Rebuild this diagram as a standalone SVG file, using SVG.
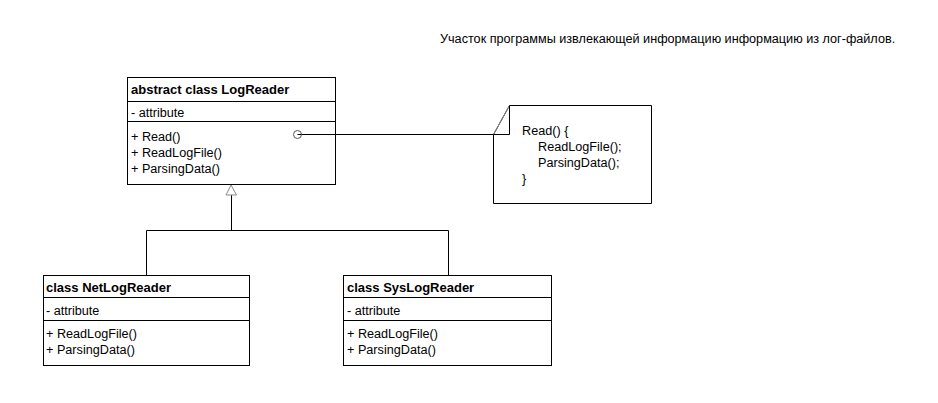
<svg xmlns="http://www.w3.org/2000/svg" width="938" height="403" viewBox="0 0 938 403">
<style>
  text { font-family: "Liberation Sans", Arial, sans-serif; font-size: 12.65px; fill: #000; }
  .b { font-weight: bold; font-size: 13px; }
  .box { fill: #fff; stroke: #000; stroke-width: 1; }
  .ln { fill: none; stroke: #000; stroke-width: 1; }
</style>
<rect width="938" height="403" fill="#fff"/>
<text x="440" y="43">Участок программы извлекающей информацию информацию из лог-файлов.</text>

<g id="LogReader">
  <rect class="box" x="127.5" y="77.5" width="208" height="107"/>
  <line class="ln" x1="127.5" y1="101.5" x2="335.5" y2="101.5"/>
  <line class="ln" x1="127.5" y1="121.5" x2="335.5" y2="121.5"/>
  <text class="b" x="131" y="94">abstract class LogReader</text>
  <text x="131" y="117">- attribute</text>
  <text x="131" y="141">+ Read()</text>
  <text x="131" y="157">+ ReadLogFile()</text>
  <text x="131" y="173">+ ParsingData()</text>
</g>

<g id="note">
  <path class="box" d="M509.5 105.5 H651.5 V203.5 H493.5 V134.5 Z"/>
  <path fill="none" stroke="#888" stroke-width="1" d="M493.5 134.5 L509.5 105.5"/>
  <path class="ln" d="M509.5 105.5 V134.5 H493.5"/>
  <text x="522" y="135">Read() {</text>
  <text x="538" y="151">ReadLogFile();</text>
  <text x="538" y="167">ParsingData();</text>
  <text x="522" y="183">}</text>
</g>

<g id="NetLogReader">
  <rect class="box" x="43.5" y="275.5" width="206" height="90"/>
  <line class="ln" x1="43.5" y1="297.5" x2="249.5" y2="297.5"/>
  <line class="ln" x1="43.5" y1="320.5" x2="249.5" y2="320.5"/>
  <text class="b" x="46" y="292">class NetLogReader</text>
  <text x="46" y="315">- attribute</text>
  <text x="46" y="338">+ ReadLogFile()</text>
  <text x="46" y="354">+ ParsingData()</text>
</g>

<g id="SysLogReader">
  <rect class="box" x="343.5" y="275.5" width="208" height="90"/>
  <line class="ln" x1="343.5" y1="297.5" x2="551.5" y2="297.5"/>
  <line class="ln" x1="343.5" y1="320.5" x2="551.5" y2="320.5"/>
  <text class="b" x="347" y="292">class SysLogReader</text>
  <text x="347" y="315">- attribute</text>
  <text x="347" y="338">+ ReadLogFile()</text>
  <text x="347" y="354">+ ParsingData()</text>
</g>

<g id="connectors">
  <path class="ln" d="M231.5 195 V230.5 M146.5 230.5 H448.5 M146.5 230.5 V275 M448.5 230.5 V275"/>
  <polygon points="231,185 226,195 236.5,195" fill="#fff" stroke="#888" stroke-width="1"/>
  <line class="ln" x1="297.5" y1="134.5" x2="493.5" y2="134.5"/>
  <circle cx="297.5" cy="134.5" r="4" fill="none" stroke="#555" stroke-width="1"/>
</g>
</svg>
